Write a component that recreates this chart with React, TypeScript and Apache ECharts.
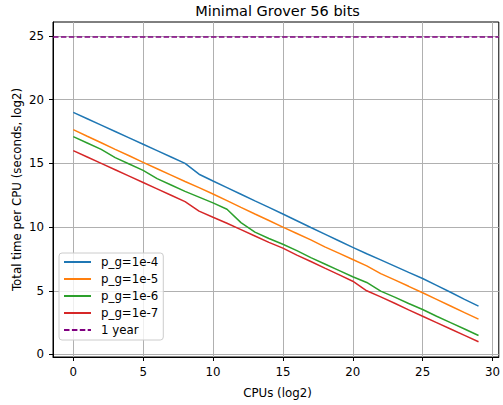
import React, { useEffect, useRef } from "react";
import * as echarts from "echarts";

const CPUS_LOG2 = [0, 1, 2, 3, 4, 5, 6, 7, 8, 9, 10, 11, 12, 13, 14, 15, 16, 17, 18, 19, 20, 21, 22, 23, 24, 25, 26, 27, 28, 29];
const PG_1E4 = [19.0, 18.5, 18.0, 17.5, 17.0, 16.5, 16.0, 15.5, 15.0, 14.15, 13.62, 13.1, 12.58, 12.06, 11.55, 11.03, 10.5, 9.97, 9.45, 8.93, 8.41, 7.91, 7.42, 6.93, 6.44, 5.96, 5.42, 4.88, 4.33, 3.79];
const PG_1E5 = [17.65, 17.13, 16.62, 16.1, 15.6, 15.08, 14.58, 14.08, 13.58, 13.1, 12.6, 12.08, 11.55, 11.03, 10.52, 10.0, 9.5, 9.0, 8.45, 7.95, 7.45, 6.95, 6.35, 5.85, 5.35, 4.84, 4.32, 3.8, 3.28, 2.77];
const PG_1E6 = [17.1, 16.6, 16.1, 15.45, 14.95, 14.45, 13.8, 13.3, 12.8, 12.35, 11.9, 11.4, 10.35, 9.6, 9.1, 8.65, 8.15, 7.6, 7.1, 6.6, 6.1, 5.65, 4.97, 4.5, 4.0, 3.53, 3.0, 2.5, 2.0, 1.49];
const PG_1E7 = [16.0, 15.5, 15.0, 14.5, 14.0, 13.5, 13.0, 12.5, 12.0, 11.25, 10.77, 10.3, 9.8, 9.3, 8.8, 8.35, 7.8, 7.3, 6.78, 6.27, 5.75, 5.0, 4.52, 4.02, 3.5, 3.0, 2.5, 2.0, 1.5, 1.0];
const ONE_YEAR_LOG2 = 24.91;

const SERIES_NAMES = ["p_g=1e-4", "p_g=1e-5", "p_g=1e-6", "p_g=1e-7"];
const SERIES_VALUES = [PG_1E4, PG_1E5, PG_1E6, PG_1E7];
const COLORS = ["#1f77b4", "#ff7f0e", "#2ca02c", "#d62728"];
const X_TICKS = [0, 5, 10, 15, 20, 25, 30];
const Y_TICKS = [0, 5, 10, 15, 20, 25];

const FONT = "DejaVu Sans";
const FS = 11.8;

export default function App() {
  const ref = useRef<HTMLDivElement>(null);
  useEffect(() => {
    if (!ref.current) return;
    const chart = echarts.init(ref.current, null, { renderer: "svg" });
    const lineSeries = SERIES_NAMES.map((name, i) => ({
      name,
      type: "line",
      symbol: "none",
      color: COLORS[i],
      lineStyle: { color: COLORS[i], width: 1.5 },
      data: CPUS_LOG2.map((x, j) => [x, SERIES_VALUES[i][j]]),
      z: 3,
    }));
    const gridLeft = 53;
    const gridRight = 502;
    const gridTop = 22;
    const gridBottom = 357;
    const option: any = {
      animation: false,
      backgroundColor: "#ffffff",
      textStyle: { fontFamily: FONT },
      grid: {
        left: gridLeft,
        top: gridTop,
        width: gridRight - gridLeft,
        height: gridBottom - gridTop,
        show: true,
        borderColor: "#000000",
        borderWidth: 1,
        backgroundColor: "transparent",
        containLabel: false,
      },
      xAxis: {
        type: "value",
        min: -1.45,
        max: 30.45,
        splitNumber: 5,
        axisLine: { show: true, onZero: false, lineStyle: { color: "#000", width: 1 } },
        axisTick: { show: true, length: 4, customValues: X_TICKS, lineStyle: { color: "#000" } },
        axisLabel: {
          customValues: X_TICKS,
          color: "#000",
          fontFamily: FONT,
          fontSize: FS,
          margin: 9,
        },
        splitLine: { show: true, lineStyle: { color: "#b0b0b0", width: 1 } },
      },
      yAxis: {
        type: "value",
        min: -0.2,
        max: 26.1,
        splitNumber: 5,
        axisLine: { show: true, onZero: false, lineStyle: { color: "#000", width: 1 } },
        axisTick: { show: true, length: 4, customValues: Y_TICKS, lineStyle: { color: "#000" } },
        axisLabel: {
          customValues: Y_TICKS,
          color: "#000",
          fontFamily: FONT,
          fontSize: FS,
          margin: 9,
        },
        splitLine: { show: true, lineStyle: { color: "#b0b0b0", width: 1 } },
      },
      legend: {
        orient: "vertical",
        left: 59,
        top: 253,
        padding: [3, 5, 4, 4],
        itemGap: 5,
        itemWidth: 27,
        itemHeight: 14,
        backgroundColor: "rgba(255,255,255,0.8)",
        borderColor: "#cccccc",
        borderWidth: 1,
        borderRadius: 3,
        itemStyle: { opacity: 0 },
        textStyle: { fontFamily: FONT, fontSize: FS, color: "#000", padding: [0, 0, 0, 5] },
        data: [...SERIES_NAMES, "1 year"],
      },
      graphic: [
        {
          type: "text",
          x: (gridLeft + gridRight) / 2,
          y: 11,
          style: {
            text: "Minimal Grover 56 bits",
            fontFamily: FONT,
            fontSize: 14.5,
            fill: "#000",
            align: "center",
            verticalAlign: "middle",
          },
        },
        {
          type: "text",
          x: (gridLeft + gridRight) / 2,
          y: 393,
          style: {
            text: "CPUs (log2)",
            fontFamily: FONT,
            fontSize: FS,
            fill: "#000",
            align: "center",
            verticalAlign: "middle",
          },
        },
        {
          type: "text",
          x: 17,
          y: (gridTop + gridBottom) / 2,
          rotation: Math.PI / 2,
          style: {
            text: "Total time per CPU (seconds, log2)",
            fontFamily: FONT,
            fontSize: FS,
            fill: "#000",
            align: "center",
            verticalAlign: "middle",
          },
        },
      ],
      series: [
        ...lineSeries,
        {
          name: "1 year",
          type: "line",
          symbol: "none",
          color: "#800080",
          lineStyle: { color: "#800080", width: 1.5, type: [5.5, 2.4] },
          data: [],
          markLine: {
            silent: true,
            symbol: "none",
            label: { show: false },
            lineStyle: { color: "#800080", width: 1.5, type: [5.5, 2.4] },
            data: [{ yAxis: ONE_YEAR_LOG2 }],
          },
          z: 3,
        },
      ],
    };
    chart.setOption(option);
    return () => chart.dispose();
  }, []);
  return (
    <div
      ref={ref}
      style={{ position: "fixed", left: 0, top: 0, width: 503, height: 405, background: "#fff" }}
    />
  );
}
